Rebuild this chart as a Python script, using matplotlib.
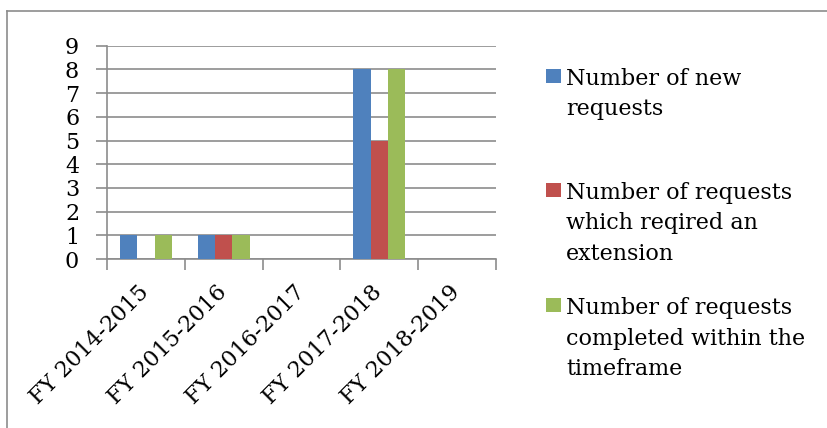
import matplotlib
matplotlib.use("Agg")
import matplotlib.pyplot as plt
import matplotlib.transforms as mtransforms
import numpy as np
from matplotlib.patches import Rectangle
from matplotlib.lines import Line2D

categories = ["FY 2014-2015", "FY 2015-2016", "FY 2016-2017", "FY 2017-2018", "FY 2018-2019"]
new_requests = [1, 1, 0, 8, 0]
extension_requests = [0, 1, 0, 5, 0]
completed_requests = [1, 1, 0, 8, 0]
series_labels = ["Number of new\nrequests",
                 "Number of requests\nwhich reqired an\nextension",
                 "Number of requests\ncompleted within the\ntimeframe"]
colors = ["#4F81BD", "#C0504D", "#9BBB59"]
y_ticks = list(range(0, 10))

plt.rcParams['font.family'] = ['DejaVu Serif']
FS = 16

fig = plt.figure(figsize=(8.28, 4.28), dpi=100)
W, H = 828, 428
ax = fig.add_axes([107 / W, 1 - 259 / H, (496 - 107) / W, (259 - 45.7) / H])

series = [new_requests, extension_requests, completed_requests]
n = len(series)
bw = 1 / (n + 1.5)
x = np.arange(len(categories))
for i, (vals, c) in enumerate(zip(series, colors)):
    ax.bar(x + (i - 1) * bw, vals, width=bw, color=c, zorder=3, linewidth=0)

ax.set_xlim(-0.5, len(categories) - 0.5)
ax.set_ylim(0, 9)
ax.set_yticks(y_ticks)
ax.set_yticklabels([str(v) for v in y_ticks], fontsize=FS)
ax.yaxis.grid(True, color="#8C8C8C", linewidth=1.2, zorder=0)
ax.tick_params(axis='y', length=8, color="#8C8C8C", width=1.2, pad=12)

ax.set_xticks(x)
ax.set_xticklabels(categories, rotation=45, ha='right', va='top', rotation_mode='anchor', fontsize=FS)
ax.tick_params(axis='x', which='major', length=0, pad=16)
shift = mtransforms.ScaledTranslation(-8 / 100, 0, fig.dpi_scale_trans)
for lbl in ax.get_xticklabels():
    lbl.set_transform(lbl.get_transform() + shift)
ax.set_xticks(np.arange(-0.5, len(categories) + 0.5, 1), minor=True)
ax.tick_params(axis='x', which='minor', length=8, color="#8C8C8C", width=1.2)

for s in ['top', 'right']:
    ax.spines[s].set_visible(False)
for s in ['left', 'bottom']:
    ax.spines[s].set_color("#8C8C8C")
    ax.spines[s].set_linewidth(1.2)

# chart border (top and left visible)
fig.add_artist(Line2D([7 / W, 7 / W], [0, 1 - 10.5 / H], transform=fig.transFigure, color="#8C8C8C", linewidth=1.2))
fig.add_artist(Line2D([7 / W, 1], [1 - 10.5 / H, 1 - 10.5 / H], transform=fig.transFigure, color="#8C8C8C", linewidth=1.2))

# legend
square_tops = [69, 183, 298]
for lab, c, top in zip(series_labels, colors, square_tops):
    fig.add_artist(Rectangle((546 / W, 1 - (top + 14) / H), 15 / W, 14 / H, transform=fig.transFigure,
                             facecolor=c, edgecolor='none'))
    fig.text(566 / W, 1 - (top - 1) / H, lab, ha='left', va='top', fontsize=FS, linespacing=1.5)

fig.savefig("out.png", dpi=100, facecolor='white')
